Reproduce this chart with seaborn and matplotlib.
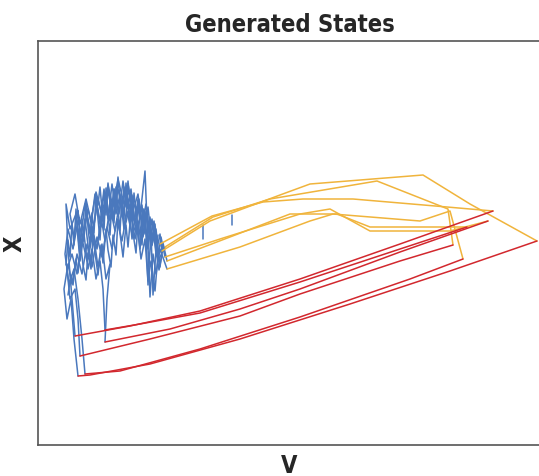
import numpy as np
import pandas as pd
import matplotlib
matplotlib.use("Agg")
import matplotlib.pyplot as plt
import seaborn as sns

# ===================== 轨迹数据 (V, X)，按阶段分段 =====================
# 阶段1：静息噪声（蓝）
blue_V = [
    [37, 34, 30, 28, 32, 38, 42, 47, 52, 57, 62, 66, 70, 74, 78, 82, 86, 90, 94, 98, 102, 106, 110, 114, 118, 122, 124],
    [67, 65, 62, 58, 54, 50, 46, 42, 39, 44, 49, 54, 59, 63, 68, 72, 76, 81, 85, 89, 93, 97, 101, 105, 109, 113, 117, 120, 127],
    [67, 69, 72, 68, 64, 60, 55, 51, 47, 43, 40, 36, 32, 37, 42, 48, 53, 58, 64, 70, 75, 80, 86, 91, 96, 101, 106, 110, 114, 118, 122, 125, 129],
    [42, 40, 37, 32, 29, 34, 39, 44, 49, 54, 59, 63, 67, 72, 77, 82, 87, 92, 97, 102, 107, 112, 115, 118, 122, 129],
    [47, 44, 40, 36, 31, 27, 30, 35, 40, 45, 50, 55, 60, 65, 70, 75, 80, 85, 90, 95, 100, 104, 108, 112, 116, 120, 123, 127],
    [40, 36, 33, 29, 26, 30, 34, 39, 44, 49, 54, 59, 64, 69, 74, 79, 84, 89, 94, 99, 103, 107, 110, 113, 117, 120, 122],
    [28, 30, 32, 34, 36, 38, 40, 42, 44, 46, 48, 50, 52, 54, 56, 58, 60, 62, 64, 66, 68, 70, 72, 74, 76, 78, 80, 82,
     84, 86, 88, 90, 92, 94, 96, 98, 100, 102, 104, 106, 108, 110, 112, 114, 116, 118, 120],
    [30, 33, 35, 38, 40, 43, 45, 48, 50, 53, 55, 58, 60, 63, 65, 68, 70, 73, 75, 78, 80, 83, 85, 88, 90, 93, 95, 98,
     100, 103, 105, 108, 110, 113, 115, 118, 121, 124],
    [60, 62, 64, 66, 68, 70, 72, 74, 76, 78, 80, 82, 84, 86, 88, 90, 92, 94, 96, 98, 100, 102, 104, 106, 108, 110,
     112, 114, 116, 118],
    [165, 165],
    [194, 194],
]
blue_X = [
    [109, 146, 196, 241, 216, 231, 201, 241, 211, 251, 221, 256, 226, 261, 231, 251, 216, 246, 206, 236, 196, 231, 201, 226, 191, 211, 194],
    [115, 156, 184, 166, 196, 176, 211, 184, 218, 201, 231, 206, 241, 218, 248, 224, 256, 231, 264, 236, 256, 221, 246, 208, 234, 196, 221, 184, 198],
    [103, 146, 181, 166, 201, 178, 214, 191, 226, 198, 234, 208, 231, 251, 221, 246, 224, 253, 231, 260, 238, 266, 241, 254, 224, 243, 211, 238, 200, 216, 178, 202, 184],
    [89, 126, 156, 146, 176, 191, 171, 206, 184, 218, 196, 228, 204, 238, 214, 246, 218, 241, 206, 228, 274, 148, 191, 171, 196, 176],
    [71, 106, 146, 176, 161, 191, 216, 196, 224, 206, 236, 214, 246, 224, 254, 228, 256, 231, 261, 234, 251, 218, 241, 206, 224, 188, 208, 188],
    [69, 106, 146, 126, 156, 181, 161, 191, 171, 201, 178, 208, 188, 218, 196, 226, 204, 234, 211, 221, 186, 206, 164, 184, 154, 191, 201],
    [180, 205, 188, 222, 200, 236, 210, 190, 226, 204, 245, 218, 198, 232, 212, 250, 226, 205, 238, 215, 257, 232, 210, 244,
     222, 258, 236, 214, 248, 226, 262, 240, 218, 250, 230, 211, 242, 220, 200, 236, 214, 196, 228, 205, 220, 198, 210],
    [150, 170, 160, 186, 172, 198, 180, 165, 192, 176, 208, 185, 170, 200, 182, 216, 195, 178, 210, 190, 226, 204, 188, 220,
     198, 234, 212, 192, 224, 202, 236, 210, 160, 214, 150, 196, 175, 190],
    [240, 258, 236, 252, 230, 262, 244, 226, 256, 234, 268, 246, 228, 258, 238, 264, 242, 224, 252, 232, 246, 226, 240, 218,
     234, 212, 226, 200, 214, 194],
    [220, 206],
    [230, 220],
]

# 阶段2：上升（黄）
yellow_V = [
    [124, 172, 242, 272, 385, 432, 499],
    [127, 175, 232, 339, 410, 415],
    [122, 174, 225, 265, 315, 409, 455],
    [129, 192, 252, 299, 332, 409, 429],
    [129, 202, 272, 295, 382, 412, 425],
    [127, 182, 262, 292, 332, 412, 450],
]
yellow_X = [
    [194, 224, 250, 261, 270, 241, 204],
    [198, 228, 246, 264, 236, 200],
    [201, 229, 243, 246, 246, 238, 234],
    [184, 208, 231, 231, 218, 218, 218],
    [176, 198, 224, 231, 224, 234, 186],
    [188, 206, 231, 236, 214, 214, 224],
]

# 阶段3：回落（红）
red_V = [
    [455, 362, 262, 162, 92, 37],
    [429, 362, 262, 162, 102, 67],
    [450, 362, 262, 202, 132, 67],
    [415, 362, 262, 202, 112, 42],
    [425, 372, 262, 162, 82, 47],
    [499, 412, 312, 202, 112, 52, 40],
]
red_X = [
    [234, 201, 166, 134, 119, 109],
    [218, 196, 163, 132, 121, 115],
    [224, 193, 156, 136, 116, 103],
    [200, 184, 151, 129, 106, 89],
    [186, 166, 128, 96, 74, 71],
    [204, 174, 141, 106, 81, 70, 69],
]

phase_colors = {"rest": "#4a78bd", "rise": "#f0b43c", "fall": "#d2282e"}

# 拼成长表
rows = []
seg_id = 0
for phase, Vs, Xs in [("rest", blue_V, blue_X), ("rise", yellow_V, yellow_X), ("fall", red_V, red_X)]:
    for vs, xs in zip(Vs, Xs):
        for k, (v, x) in enumerate(zip(vs, xs)):
            rows.append({"V": v, "X": x, "phase": phase, "seg": seg_id, "k": k})
        seg_id += 1
df = pd.DataFrame(rows)

# ===================== 绘图 =====================
sns.set_style("white")
plt.rcParams["font.family"] = ["DejaVu Sans"]

fig = plt.figure(figsize=(5.39, 4.77), dpi=100)
ax = fig.add_axes([38 / 539, 31 / 477, 503 / 539, 404 / 477])

sns.lineplot(
    data=df, x="V", y="X", hue="phase", units="seg", estimator=None,
    sort=False, palette=phase_colors, linewidth=1.1, legend=False, ax=ax
)

ax.set_xlim(0, 503)
ax.set_ylim(0, 404)
ax.set_xticks([])
ax.set_yticks([])
ax.set_xlabel("V", fontsize=17, fontweight="bold", labelpad=6, fontstretch="condensed")
ax.set_ylabel("X", fontsize=17, fontweight="bold", labelpad=8, fontstretch="condensed")
ax.set_title("Generated States", fontsize=17, fontweight="bold", pad=7, fontstretch="condensed")
for s in ax.spines.values():
    s.set_color("#555555")
    s.set_linewidth(1.2)

fig.savefig("out.png", dpi=100)
